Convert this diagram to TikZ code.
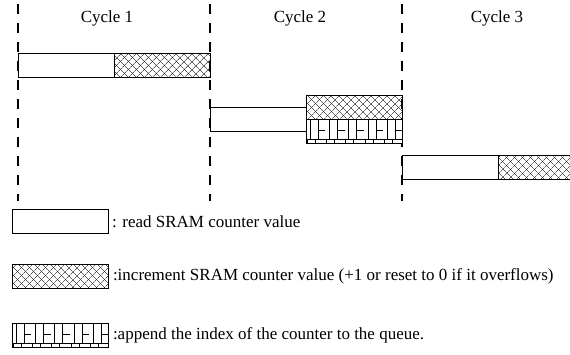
\documentclass[tikz,border=0pt]{standalone}
\usepackage{fontspec}
\setmainfont{Liberation Serif}
\usetikzlibrary{patterns.meta}
\tikzset{
  cycleline/.style = {line width=1.6pt, dash pattern=on 10pt off 9pt},
  bar/.style       = {shape=rectangle, draw, line width=0.8pt, inner sep=0pt,
                      minimum width=96pt, minimum height=24pt, anchor=north west},
  readbox/.style   = {bar, fill=white},
  incbox/.style    = {bar,
                      pattern={Lines[angle=45,distance=5.4pt,line width=0.5pt]},
                      postaction={pattern={Lines[angle=-45,distance=5.4pt,line width=0.5pt]}}},
  queuebox/.style  = {bar, fill=white, path picture={
      \foreach \k in {0,...,4}{
        \draw[line width=0.8pt]
          ([xshift=\k*19.2pt+4pt]path picture bounding box.north west) -- ++(0,-20pt)
          ([xshift=\k*19.2pt+12pt]path picture bounding box.north west) -- ++(0,-20pt)
          ([xshift=\k*19.2pt+12pt,yshift=-11pt]path picture bounding box.north west) -- ++(7pt,0)
          ([xshift=\k*19.2pt+1pt]path picture bounding box.south west) -- ++(0,4pt)
          ([xshift=\k*19.2pt+9pt]path picture bounding box.south west) -- ++(0,4pt);
      }
      \draw[line width=0.8pt] ([yshift=4pt]path picture bounding box.south west)
        -- ([yshift=4pt]path picture bounding box.south east);}},
  label/.style     = {font=\fontsize{17pt}{19pt}\selectfont, inner sep=0pt},
  legend/.style    = {font=\fontsize{17pt}{19pt}\selectfont, inner sep=0pt, anchor=west}
}

\begin{document}
\begin{tikzpicture}[x=1pt,y=-1pt]
  \useasboundingbox (0,0) rectangle (570,354);
  \clip (0,0) rectangle (570,354);

  % cycle borders
  \foreach \x/\n in {18/a,210/b,402/c}{
    \coordinate (top\n) at (\x,4);
    \coordinate (bot\n) at (\x,201);
    \draw[cycleline] (top\n) -- (bot\n);
  }

  \node[label] (cyc1) at (107,18) {Cycle 1};
  \node[label] (cyc2) at (300,18) {Cycle 2};
  \node[label] (cyc3) at (497,18) {Cycle 3};

  % cycle 1
  \node[readbox] (read1) at (18,53) {};
  \node[incbox]  (inc1)  at (114,53) {};

  % cycle 2
  \node[readbox]  (read2)  at (210,107) {};
  \node[incbox]   (inc2)   at (306,95) {};
  \node[queuebox] (queue2) at (306,119) {};

  % cycle 3
  \node[readbox] (read3) at (402,155) {};
  \node[incbox]  (inc3)  at (498,155) {};

  % legend
  \node[readbox]  (keyread)  at (12,209) {};
  \node[legend] at ([xshift=3pt]keyread.east) {: read SRAM counter value};
  \node[incbox]   (keyinc)   at (12,264) {};
  \node[legend] at ([xshift=4pt]keyinc.east) {:increment SRAM counter value (+1 or reset to 0 if it overflows)};
  \node[queuebox] (keyqueue) at (12,323) {};
  \node[legend] at ([xshift=4pt]keyqueue.east) {:append the index of the counter to the queue.};
\end{tikzpicture}
\end{document}
